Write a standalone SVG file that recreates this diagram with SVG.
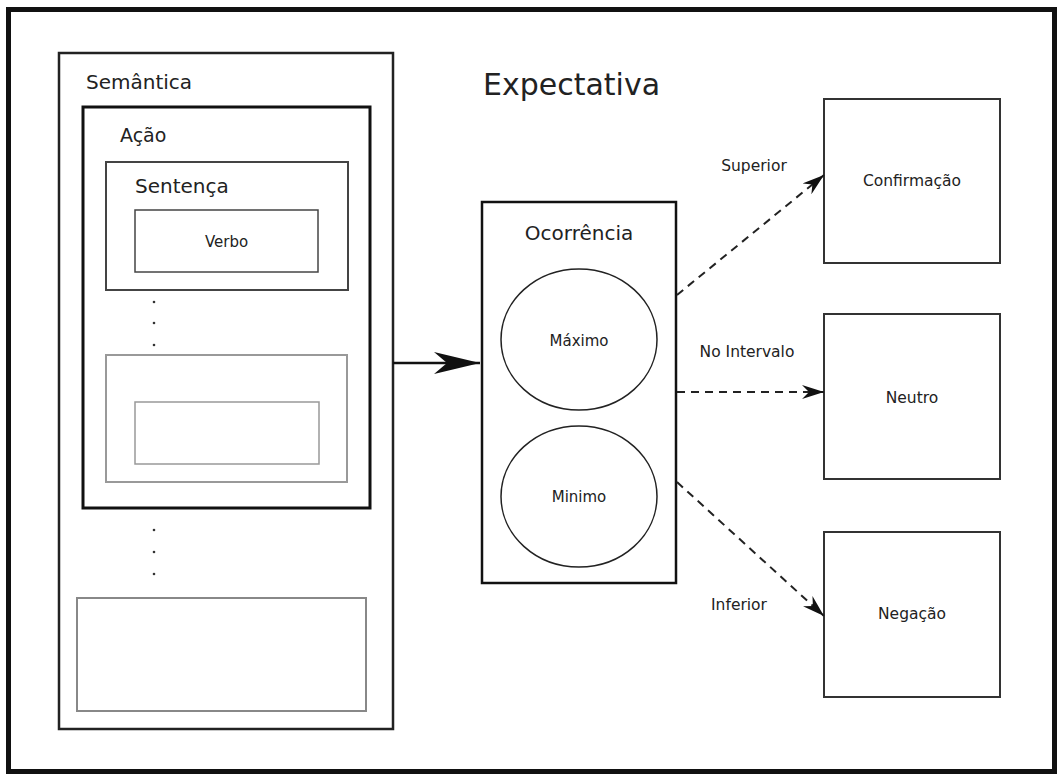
<svg xmlns="http://www.w3.org/2000/svg" width="1058" height="774" viewBox="0 0 1058 774">
<style>
text{font-family:"DejaVu Sans",Verdana,sans-serif;fill:#222}
.box{fill:#fff}
.dash{fill:none;stroke:#222;stroke-width:2;stroke-dasharray:8 6}
</style>
<defs>
<marker id="big" viewBox="0 0 46 22" refX="46" refY="11" markerWidth="46" markerHeight="22" markerUnits="userSpaceOnUse" orient="auto">
<path d="M0,0 L46,11 L0,22 L13,11 Z" fill="#111"/>
</marker>
<marker id="small" viewBox="0 0 22 14" refX="22" refY="7" markerWidth="22" markerHeight="14" markerUnits="userSpaceOnUse" orient="auto">
<path d="M0,0 L22,7 L0,14 L7,7 Z" fill="#111"/>
</marker>
</defs>
<rect width="1058" height="774" fill="#fff"/>
<rect x="8.5" y="9.5" width="1046" height="762" fill="none" stroke="#111" stroke-width="5"/>
<text x="483" y="95" font-size="30">Expectativa</text>

<g id="semantica">
<rect class="box" x="59" y="53" width="334" height="676" stroke="#222" stroke-width="2.5"/>
<text x="86" y="89" font-size="20">Semântica</text>
</g>
<g id="acao">
<rect class="box" x="83" y="107" width="287" height="401" stroke="#111" stroke-width="3"/>
<text x="120" y="142" font-size="19">Ação</text>
</g>
<g id="sentenca">
<rect class="box" x="106" y="162" width="242" height="128" stroke="#444" stroke-width="2"/>
<text x="135" y="193" font-size="20">Sentença</text>
</g>
<g id="verbo">
<rect class="box" x="135" y="210" width="183" height="62" stroke="#444" stroke-width="1.5"/>
<text x="226.5" y="247" font-size="15" text-anchor="middle">Verbo</text>
</g>
<g id="dots1" fill="#333">
<circle cx="154" cy="302" r="1.3"/>
<circle cx="154" cy="323" r="1.3"/>
<circle cx="154" cy="345" r="1.3"/>
</g>
<g id="sentenca2">
<rect class="box" x="106" y="355" width="241" height="127" stroke="#999" stroke-width="2"/>
</g>
<g id="verbo2">
<rect class="box" x="135" y="402" width="184" height="62" stroke="#999" stroke-width="1.5"/>
</g>
<g id="dots2" fill="#333">
<circle cx="154" cy="530" r="1.3"/>
<circle cx="154" cy="552" r="1.3"/>
<circle cx="154" cy="574" r="1.3"/>
</g>
<g id="acao2">
<rect class="box" x="77" y="598" width="289" height="113" stroke="#888" stroke-width="2"/>
</g>

<g id="ocorrencia">
<rect class="box" x="482" y="202" width="194" height="381" stroke="#111" stroke-width="2.5"/>
<text x="579" y="240" font-size="20" text-anchor="middle">Ocorrência</text>
</g>
<g id="maximo">
<ellipse cx="579" cy="339.5" rx="78" ry="70.5" fill="#fff" stroke="#222" stroke-width="1.5"/>
<text x="579" y="346" font-size="15" text-anchor="middle">Máximo</text>
</g>
<g id="minimo">
<ellipse cx="579" cy="496.5" rx="78" ry="70.5" fill="#fff" stroke="#222" stroke-width="1.5"/>
<text x="579" y="502" font-size="15" text-anchor="middle">Minimo</text>
</g>

<g id="confirmacao">
<rect class="box" x="824" y="99" width="176" height="164" stroke="#333" stroke-width="2"/>
<text x="912" y="186" font-size="15.5" text-anchor="middle">Confirmação</text>
</g>
<g id="neutro">
<rect class="box" x="824" y="314" width="176" height="165" stroke="#333" stroke-width="2"/>
<text x="912" y="403" font-size="15.5" text-anchor="middle">Neutro</text>
</g>
<g id="negacao">
<rect class="box" x="824" y="532" width="176" height="165" stroke="#333" stroke-width="2"/>
<text x="912" y="619" font-size="15.5" text-anchor="middle">Negação</text>
</g>

<g id="connectors">
<path d="M393,363 L480,363" fill="none" stroke="#111" stroke-width="2.5" marker-end="url(#big)"/>
<path class="dash" d="M677,295 L824,175" marker-end="url(#small)"/>
<path class="dash" d="M677,392 L824,392" marker-end="url(#small)"/>
<path class="dash" d="M677,482 L824,616" marker-end="url(#small)"/>
<text x="754" y="171" font-size="15.5" text-anchor="middle">Superior</text>
<text x="747" y="357" font-size="15.5" text-anchor="middle">No Intervalo</text>
<text x="739" y="610" font-size="15.5" text-anchor="middle">Inferior</text>
</g>
</svg>
